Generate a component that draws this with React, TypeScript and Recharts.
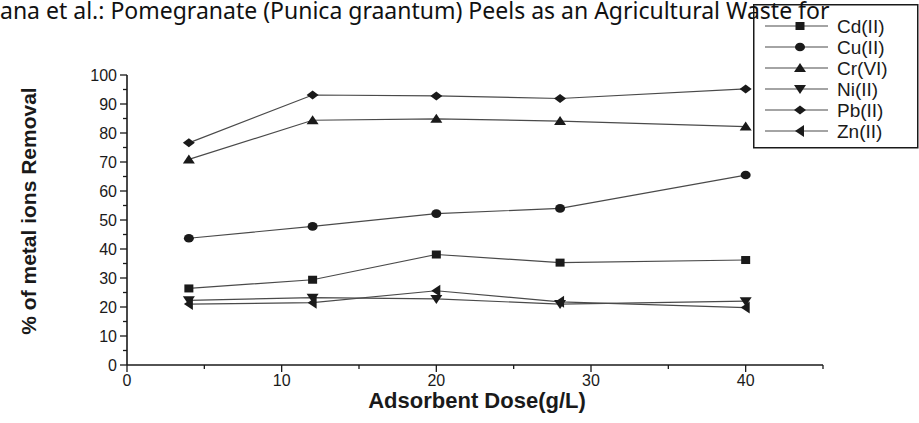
import { LineChart, Line, XAxis, YAxis } from "recharts";

// adsorbent dose (g/L)
const doses = [4, 12, 20, 28, 40];
// % removal per metal ion
const cdValues = [26.4, 29.4, 38.1, 35.3, 36.2];
const cuValues = [43.7, 47.8, 52.2, 54.0, 65.5];
const crValues = [70.9, 84.4, 84.9, 84.1, 82.2];
const niValues = [22.3, 23.2, 22.8, 21.0, 22.0];
const pbValues = [76.6, 93.1, 92.8, 91.9, 95.2];
const znValues = [21.0, 21.5, 25.6, 21.8, 19.8];

const xTicks = [0, 5, 10, 15, 20, 25, 30, 35, 40, 45];
const yTicks = [0, 5, 10, 15, 20, 25, 30, 35, 40, 45, 50, 55, 60, 65, 70, 75, 80, 85, 90, 95, 100];

const series = [
  { key: "cd", name: "Cd(II)", values: cdValues, shape: "square" },
  { key: "cu", name: "Cu(II)", values: cuValues, shape: "circle" },
  { key: "cr", name: "Cr(VI)", values: crValues, shape: "up" },
  { key: "ni", name: "Ni(II)", values: niValues, shape: "down" },
  { key: "pb", name: "Pb(II)", values: pbValues, shape: "diamond" },
  { key: "zn", name: "Zn(II)", values: znValues, shape: "left" },
];

const data = doses.map((d, i) => {
  const row: any = { dose: d };
  series.forEach((s) => (row[s.key] = s.values[i]));
  return row;
});

const INK = "#1a1a1a";
const LINE = "#4a4a4a";
const FONT = "'Liberation Sans', Arial, sans-serif";

const Marker = ({ cx, cy, shape }: { cx: number; cy: number; shape: string }) => {
  const r = 5;
  switch (shape) {
    case "square":
      return <rect x={cx - 4.5} y={cy - 4} width={9} height={8} fill={INK} />;
    case "circle":
      return <ellipse cx={cx} cy={cy} rx={5} ry={4.3} fill={INK} />;
    case "up":
      return <polygon points={`${cx},${cy - r} ${cx + r + 1},${cy + 4} ${cx - r - 1},${cy + 4}`} fill={INK} />;
    case "down":
      return <polygon points={`${cx},${cy + r} ${cx + r + 1},${cy - 4} ${cx - r - 1},${cy - 4}`} fill={INK} />;
    case "diamond":
      return <polygon points={`${cx},${cy - 4.5} ${cx + 6},${cy} ${cx},${cy + 4.5} ${cx - 6},${cy}`} fill={INK} />;
    case "left":
      return <polygon points={`${cx - r},${cy} ${cx + 4},${cy - r - 1} ${cx + 4},${cy + r + 1}`} fill={INK} />;
    default:
      return null;
  }
};

const YTick = (props: any) => {
  const { x, y, payload } = props;
  const major = payload.value % 10 === 0;
  return (
    <g>
      <line x1={x} x2={x - (major ? 7 : 4)} y1={y} y2={y} stroke={INK} strokeWidth={1.3} />
      {major && (
        <text x={x - 10} y={y} dy="0.36em" textAnchor="end" fontSize={16} fontFamily={FONT} fill={INK}>
          {payload.value}
        </text>
      )}
    </g>
  );
};

const XTick = (props: any) => {
  const { x, y, payload } = props;
  const major = payload.value % 10 === 0;
  return (
    <g>
      <line x1={x} x2={x} y1={y} y2={y + (major ? 7 : 4)} stroke={INK} strokeWidth={1.3} />
      {major && (
        <text x={x} y={y + 21} textAnchor="middle" fontSize={16} fontFamily={FONT} fill={INK}>
          {payload.value}
        </text>
      )}
    </g>
  );
};

// legend box, same order as the series list
const LegendBox = () => (
  <svg width={166} height={146} style={{ position: "absolute", left: 753, top: 4 }}>
    <rect x={0.75} y={0.75} width={164} height={143} fill="#fff" stroke={INK} strokeWidth={1.5} />
    {series.map((s, i) => {
      const cy = 22 + i * 21;
      return (
        <g key={s.key}>
          <line x1={12} x2={75} y1={cy} y2={cy} stroke={LINE} strokeWidth={1.2} />
          <Marker cx={47} cy={cy} shape={s.shape} />
          <text x={84} y={cy} dy="0.36em" fontSize={19} fontFamily={FONT} fill={INK}>
            {s.name}
          </text>
        </g>
      );
    })}
  </svg>
);

export default function App() {
  return (
    <div style={{ position: "absolute", left: 0, top: 0, width: 919, height: 423, background: "#fff", overflow: "hidden" }}>
      <LineChart
        width={919}
        height={423}
        data={data}
        margin={{ top: 75, right: 96, left: 67, bottom: 18 }}
        style={{ position: "absolute", left: 0, top: 0 }}
      >
        <XAxis
          dataKey="dose"
          type="number"
          domain={[0, 45]}
          ticks={xTicks}
          interval={0}
          height={40}
          tickSize={0}
          tickMargin={0}
          tickLine={false}
          axisLine={{ stroke: INK, strokeWidth: 1.6 }}
          tick={<XTick />}
          label={{
            content: () => (
              <text x={477} y={408} textAnchor="middle" fontSize={22} fontWeight="bold" fontFamily={FONT} fill={INK}>
                Adsorbent Dose(g/L)
              </text>
            ),
          }}
        />
        <YAxis
          type="number"
          domain={[0, 100]}
          ticks={yTicks}
          interval={0}
          width={60}
          tickSize={0}
          tickMargin={0}
          tickLine={false}
          axisLine={{ stroke: INK, strokeWidth: 1.6 }}
          tick={<YTick />}
          label={{
            content: () => (
              <text
                x={36}
                y={211}
                transform="rotate(-90 36 211)"
                textAnchor="middle"
                fontSize={21}
                fontWeight="bold"
                fontFamily={FONT}
                fill={INK}
              >
                % of metal ions Removal
              </text>
            ),
          }}
        />
        {series.map((s) => (
          <Line
            key={s.key}
            dataKey={s.key}
            name={s.name}
            stroke={LINE}
            strokeWidth={1.2}
            isAnimationActive={false}
            dot={(p: any) => <Marker key={`${s.key}-${p.index}`} cx={p.cx} cy={p.cy} shape={s.shape} />}
            activeDot={false}
          />
        ))}
      </LineChart>
      <LegendBox />
      <svg width={919} height={30} style={{ position: "absolute", left: 0, top: 0 }}>
        <text x={0} y={19} fontSize={23} fontFamily="'Noto Sans', 'Open Sans', sans-serif" fill="#111">
          ana et al.: Pomegranate (Punica graantum) Peels as an Agricultural Waste for
        </text>
      </svg>
    </div>
  );
}
